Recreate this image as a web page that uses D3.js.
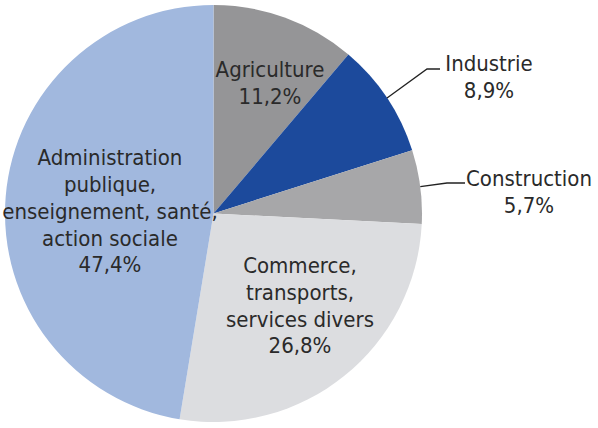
<!DOCTYPE html>
<html><head><meta charset="utf-8">
<script src="https://cdn.jsdelivr.net/npm/d3@7"></script>
<style>
html,body{margin:0;padding:0;background:#fff;}
svg text{font-family:"DejaVu Sans Condensed","DejaVu Sans",sans-serif;font-stretch:condensed;fill:#2a2a2a;}
</style></head>
<body><svg id="c" width="598" height="428"></svg>
<script>
const categories = ["Agriculture","Industrie","Construction","Commerce, transports, services divers","Administration publique, enseignement, santé, action sociale"];
const values = [11.2, 8.9, 5.7, 26.8, 47.4];
const valueLabels = ["11,2%","8,9%","5,7%","26,8%","47,4%"];
const labelLines = [["Agriculture"],["Industrie"],["Construction"],["Commerce,","transports,","services divers"],["Administration","publique,","enseignement, santé,","action sociale"]];
const colors = ["#959597","#1c4a9c","#a7a7a9","#dcdde0","#a1b8de"];

// layout (label anchors relative to centre, leader elbows)
const cx = 213.5, cy = 213.5, R = 208.5;
const labelPos = [[56.5,-130.5],[275.5,-137],[315.5,-22],[86.5,92],[-103.5,-2.5]];
const leaders = [null, [[213.5,-144.5],[226.5,-144.5]], [[233.5,-30.5],[251.5,-30.5]], null, null];
const lineH = 26.8, fontSize = 22;

const svg = d3.select("#c");
const g = svg.append("g").attr("transform",`translate(${cx},${cy})`);
const pie = d3.pie().sort(null).value(d=>d)(values);
const arc = d3.arc().innerRadius(0).outerRadius(R);

g.selectAll("path.slice").data(pie).join("path")
  .attr("class","slice").attr("d",arc).attr("fill",(d,i)=>colors[i]);

pie.forEach((d,i)=>{
  if(leaders[i]){
    const a = (d.startAngle+d.endAngle)/2;
    const p0 = [R*Math.sin(a), -R*Math.cos(a)];
    g.append("path").attr("d", d3.line()([p0, ...leaders[i]]))
      .attr("fill","none").attr("stroke","#222").attr("stroke-width",1.3);
  }
  const lines = labelLines[i].concat([valueLabels[i]]);
  const n = lines.length;
  const t = g.append("text").attr("text-anchor","middle").attr("font-size",fontSize);
  lines.forEach((s,k)=>{
    t.append("tspan").attr("x",labelPos[i][0])
     .attr("y",labelPos[i][1] + (k-(n-1)/2)*lineH).attr("dy","0.35em").text(s);
  });
});
</script></body></html>
